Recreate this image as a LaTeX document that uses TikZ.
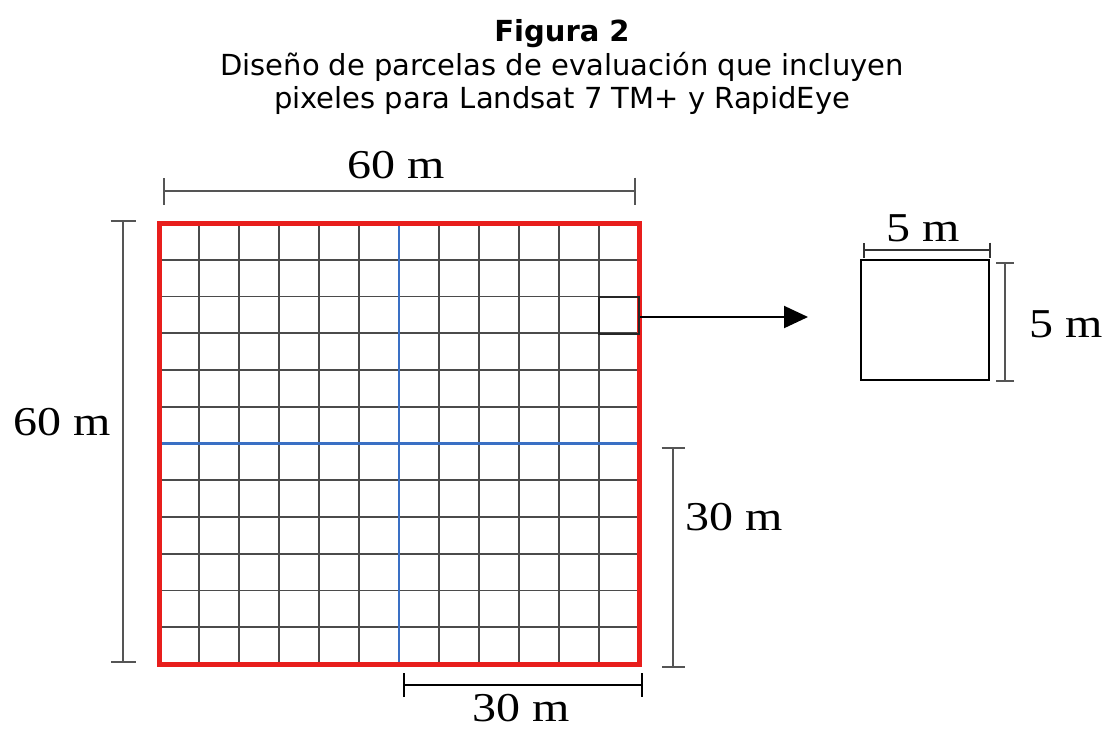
\documentclass[tikz,border=0pt]{standalone}
\usepackage{fontspec}
\setmainfont{Liberation Serif}
\newfontfamily\titlefont{DejaVu Sans}
\usetikzlibrary{arrows.meta}
\definecolor{gridred}{RGB}{232,30,28}
\definecolor{gridblue}{RGB}{58,112,196}
\definecolor{gridgray}{RGB}{75,75,75}
\definecolor{dimgray}{RGB}{85,85,85}
\tikzset{
  x=1pt, y=-1pt,
  titletext/.style={font=\titlefont\fontsize{29}{34}\selectfont, anchor=base, inner sep=0pt},
  dimlabel/.style={font=\fontsize{41}{46}\selectfont, inner sep=0pt, xscale=1.17},
  dimline/.style={line width=2pt, draw=dimgray},
  gridline/.style={line width=1.6pt, draw=gridgray},
  axisline/.style={line width=2.6pt, draw=gridblue},
  border/.style={line width=5pt, draw=gridred},
  pixelbox/.style={draw=black, line width=2.5pt, minimum width=128pt, minimum height=120pt, inner sep=0pt},
  cellbox/.style={draw=black!85, line width=2pt, minimum width=40pt, minimum height=36.75pt, inner sep=0pt},
  pointer/.style={line width=2pt, draw=black, -{Triangle[length=24pt,width=22pt]}}
}
\begin{document}
\begin{tikzpicture}
\useasboundingbox (0,0) rectangle (1110,729);
% title
\node[titletext, font=\titlefont\bfseries\fontsize{29}{34}\selectfont] (t1) at (562,41) {Figura 2};
\node[titletext] (t2) at (562,75) {Diseño de parcelas de evaluación que incluyen};
\node[titletext] (t3) at (562,108) {pixeles para Landsat 7 TM+ y RapidEye};
% grid
\foreach \i in {1,...,11} {
  \draw[gridline] (159+40*\i,223) -- (159+40*\i,664);
  \draw[gridline] (159,223+36.75*\i) -- (639,223+36.75*\i);
}
\draw[axisline] (399,223) -- (399,664);
\draw[axisline] (159,443.5) -- (639,443.5);
\draw[border] (159,223) rectangle (639,664);
% highlighted cell and arrow
\node[cellbox] (cell) at (619,315.75) {};
\coordinate (tip) at (808,317);
\draw[pointer] (cell.east |- tip) -- (tip);
% pixel
\node[pixelbox] (pixel) at (925,320) {};
% dimension lines
\coordinate (a1) at (163,191); \coordinate (a2) at (636,191);
\draw[dimline, {Bar[width=27pt]}-{Bar[width=27pt]}] (a1) -- (a2);
\node[dimlabel] (l60t) at (396,165) {60 m};
\coordinate (b1) at (123,220); \coordinate (b2) at (123,663);
\draw[dimline, {Bar[width=25pt]}-{Bar[width=25pt]}] (b1) -- (b2);
\node[dimlabel] (l60l) at (62,422) {60 m};
\coordinate (c1) at (673,447); \coordinate (c2) at (673,668);
\draw[dimline, {Bar[width=23pt]}-{Bar[width=23pt]}] (c1) -- (c2);
\node[dimlabel] (l30r) at (734,517) {30 m};
\coordinate (d1) at (403,685); \coordinate (d2) at (643,685);
\draw[dimline, draw=black, {Bar[width=24pt]}-{Bar[width=24pt]}] (d1) -- (d2);
\node[dimlabel] (l30b) at (521,708) {30 m};
\coordinate (e1) at (863,250); \coordinate (e2) at (991,250);
\draw[dimline, draw=black!80, {Bar[width=15pt]}-{Bar[width=15pt]}] (e1) -- (e2);
\node[dimlabel] (l5t) at (923,228) {5 m};
\coordinate (f1) at (1005,262); \coordinate (f2) at (1005,382);
\draw[dimline, {Bar[width=18pt]}-{Bar[width=18pt]}] (f1) -- (f2);
\node[dimlabel] (l5r) at (1066,324) {5 m};
\end{tikzpicture}
\end{document}
